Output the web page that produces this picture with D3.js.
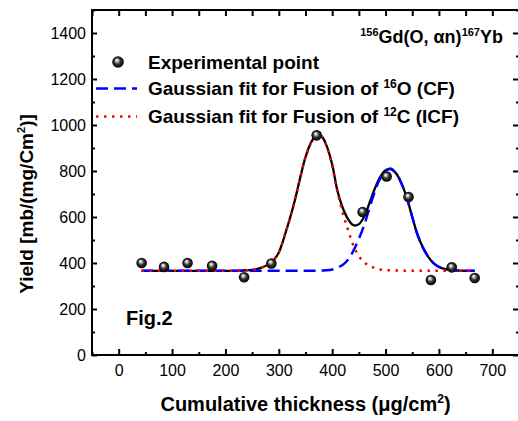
<!DOCTYPE html>
<html>
<head>
<meta charset="utf-8">
<script src="https://cdn.jsdelivr.net/npm/d3@7"></script>
<style>
  body { margin: 0; background: #fff; }
  text { font-family: "Liberation Sans", Arial, sans-serif; fill: #000; }
</style>
</head>
<body>
<div id="graph"></div>
<script>
// experimental points
const pointX = [43, 85, 129, 175, 235, 286, 371, 457, 502, 543, 585, 624, 667];
const pointY = [400, 383, 400, 388, 338, 398, 955, 622, 776, 687, 326, 381, 335];

// fit curves
const fitX = [43, 100, 150, 200, 230, 250, 265, 280, 290, 300, 310, 320, 330, 340, 350, 360, 370, 380, 390, 400,
  410, 420, 430, 440, 450, 460, 470, 480, 490, 500, 510, 520, 530, 540, 550, 560, 570, 580, 590, 600, 615, 630, 650, 667];
const totalY = [366, 366, 366, 366, 367, 370, 378, 393, 412, 446, 512, 588, 672, 770, 860, 922, 954, 951, 907, 828,
  712, 638, 590, 564, 569, 602, 662, 724, 774, 803, 810, 789, 745, 682, 600, 522, 467, 427, 399, 383, 372, 368, 366, 366];
const icfY = [366, 366, 366, 366, 367, 370, 378, 393, 412, 446, 512, 588, 672, 770, 860, 922, 954, 950, 905, 822,
  708, 615, 542, 475, 430, 403, 388, 378, 372, 369, 368, 367, 367, 366, 366, 366, 366, 366, 366, 366, 366, 366, 366, 366];
const cfY = [366, 366, 366, 366, 366, 366, 366, 366, 366, 366, 366, 366, 366, 366, 366, 366, 366, 367, 368, 372,
  380, 392, 415, 455, 505, 565, 640, 712, 768, 800, 808, 788, 745, 682, 600, 522, 467, 427, 399, 383, 372, 368, 366, 366];

// ticks
const xMajor = [0, 100, 200, 300, 400, 500, 600, 700];
const xMinor = [-50, 50, 150, 250, 350, 450, 550, 650, 750];
const yMajor = [0, 200, 400, 600, 800, 1000, 1200, 1400];
const yMinor = [100, 300, 500, 700, 900, 1100, 1300, 1500];

const width = 518, height = 421;
const plot = { left: 92, right: 519, top: 10, bottom: 355 };

const svg = d3.select("#graph").append("svg")
  .attr("width", width)
  .attr("height", height);

const defs = svg.append("defs");
const grad = defs.append("radialGradient")
  .attr("id", "ball")
  .attr("cx", "50%").attr("cy", "50%").attr("r", "50%")
  .attr("fx", "38%").attr("fy", "32%");
grad.append("stop").attr("offset", "0%").attr("stop-color", "#ffffff");
grad.append("stop").attr("offset", "22%").attr("stop-color", "#c8c8c8");
grad.append("stop").attr("offset", "55%").attr("stop-color", "#333333");
grad.append("stop").attr("offset", "100%").attr("stop-color", "#000000");

const x = d3.scaleLinear().domain([-50, 750]).range([plot.left, plot.right]);
const y = d3.scaleLinear().domain([0, 1500]).range([plot.bottom, plot.top]);

function curve(ys) {
  return d3.line()
    .x((d, i) => x(fitX[i]))
    .y(d => y(d))
    .curve(d3.curveCatmullRom)(ys);
}

function drawAxes() {
  const g = svg.append("g");

  const bottom = g.append("g").attr("transform", `translate(0,${plot.bottom})`);
  bottom.call(d3.axisBottom(x).tickValues(xMajor).tickSizeInner(-6).tickSizeOuter(0).tickPadding(10).tickFormat(d3.format("d")));
  bottom.append("g").call(d3.axisBottom(x).tickValues(xMinor).tickSizeInner(-3).tickSizeOuter(0).tickFormat(""));

  const left = g.append("g").attr("transform", `translate(${plot.left},0)`);
  left.call(d3.axisLeft(y).tickValues(yMajor).tickSizeInner(-5).tickSizeOuter(0).tickPadding(6).tickFormat(d3.format("d")));
  left.append("g").call(d3.axisLeft(y).tickValues(yMinor).tickSizeInner(-3).tickSizeOuter(0).tickFormat(""));

  const top = g.append("g").attr("transform", `translate(0,${plot.top})`);
  top.call(d3.axisTop(x).tickValues(xMajor.concat(xMinor)).tickSizeInner(-6).tickSizeOuter(0).tickFormat(""));

  const right = g.append("g").attr("transform", `translate(${plot.right},0)`);
  right.call(d3.axisRight(y).tickValues(yMajor).tickSizeInner(-6).tickSizeOuter(0).tickFormat(""));
  right.append("g").call(d3.axisRight(y).tickValues(yMinor).tickSizeInner(-3).tickSizeOuter(0).tickFormat(""));

  g.selectAll(".domain").remove();
  g.selectAll(".tick line").attr("stroke", "#000").attr("stroke-width", 2);
  g.selectAll(".tick text")
    .style("font-family", '"Liberation Sans", Arial, sans-serif')
    .style("font-size", "16px")
    .attr("fill", "#000");

  g.append("rect")
    .attr("x", plot.left).attr("y", plot.top)
    .attr("width", plot.right - plot.left)
    .attr("height", plot.bottom - plot.top)
    .attr("fill", "none")
    .attr("stroke", "#000")
    .attr("stroke-width", 2);

  // x axis title
  const xt = svg.append("text")
    .attr("x", (plot.left + plot.right) / 2)
    .attr("y", 411)
    .attr("text-anchor", "middle")
    .style("font-size", "20px")
    .style("font-weight", "bold");
  xt.append("tspan").text("Cumulative thickness (\u03bcg/cm");
  xt.append("tspan").attr("dy", -8).style("font-size", "12px").text("2");
  xt.append("tspan").attr("dy", 8).text(")");

  // y axis title
  const yt = svg.append("text")
    .attr("transform", "translate(33,204) rotate(-90)")
    .attr("text-anchor", "middle")
    .style("font-size", "19px")
    .style("font-weight", "bold");
  yt.append("tspan").text("Yield [mb/(mg/Cm");
  yt.append("tspan").attr("dy", -8).style("font-size", "11px").text("2");
  yt.append("tspan").attr("dy", 8).text(")]");
}

function drawCurves() {
  svg.append("path")
    .attr("d", curve(totalY))
    .attr("fill", "none")
    .attr("stroke", "#000")
    .attr("stroke-width", 2.3);

  svg.append("path")
    .attr("d", curve(cfY))
    .attr("fill", "none")
    .attr("stroke", "#0000ff")
    .attr("stroke-width", 2.5)
    .attr("stroke-dasharray", "12,6");

  svg.append("path")
    .attr("d", curve(icfY))
    .attr("fill", "none")
    .attr("stroke", "#ff0000")
    .attr("stroke-width", 2.5)
    .attr("stroke-dasharray", "2.5,5.5");
}

function drawPoints() {
  svg.append("g").selectAll("circle")
    .data(pointX)
    .join("circle")
    .attr("cx", d => x(d))
    .attr("cy", (d, i) => y(pointY[i]))
    .attr("r", 5.3)
    .attr("fill", "url(#ball)");
}

function drawLegend() {
  const lg = svg.append("g");
  lg.append("circle").attr("cx", 118).attr("cy", 62).attr("r", 5.8).attr("fill", "url(#ball)");
  lg.append("line").attr("x1", 96).attr("x2", 137).attr("y1", 88.5).attr("y2", 88.5)
    .attr("stroke", "#0000ff").attr("stroke-width", 2.5).attr("stroke-dasharray", "12,6");
  lg.append("line").attr("x1", 96).attr("x2", 137).attr("y1", 116.5).attr("y2", 116.5)
    .attr("stroke", "#ff0000").attr("stroke-width", 2.5).attr("stroke-dasharray", "2.5,5.5");

  const rows = [
    { y: 68.5, pre: "Experimental point" },
    { y: 95, pre: "Gaussian fit for Fusion of ", sup: "16", post: "O (CF)" },
    { y: 122.5, pre: "Gaussian fit for Fusion of ", sup: "12", post: "C (ICF)" }
  ];
  rows.forEach(r => {
    const t = lg.append("text")
      .attr("x", 148).attr("y", r.y)
      .style("font-size", "19px").style("font-weight", "bold");
    t.append("tspan").text(r.pre);
    if (r.sup) {
      t.append("tspan").attr("dy", -7).style("font-size", "12px").text(r.sup);
      t.append("tspan").attr("dy", 7).text(r.post);
    }
  });

  const ann = svg.append("text")
    .attr("x", 503).attr("y", 42.5)
    .attr("text-anchor", "end")
    .style("font-size", "18px").style("font-weight", "bold");
  ann.append("tspan").attr("dy", -7).style("font-size", "11px").text("156");
  ann.append("tspan").attr("dy", 7).text("Gd(O, \u03b1n)");
  ann.append("tspan").attr("dy", -7).style("font-size", "11px").text("167");
  ann.append("tspan").attr("dy", 7).text("Yb");

  svg.append("text")
    .attr("x", 126).attr("y", 325)
    .style("font-size", "20px").style("font-weight", "bold")
    .text("Fig.2");
}

drawAxes();
drawCurves();
drawPoints();
drawLegend();
</script>
</body>
</html>
